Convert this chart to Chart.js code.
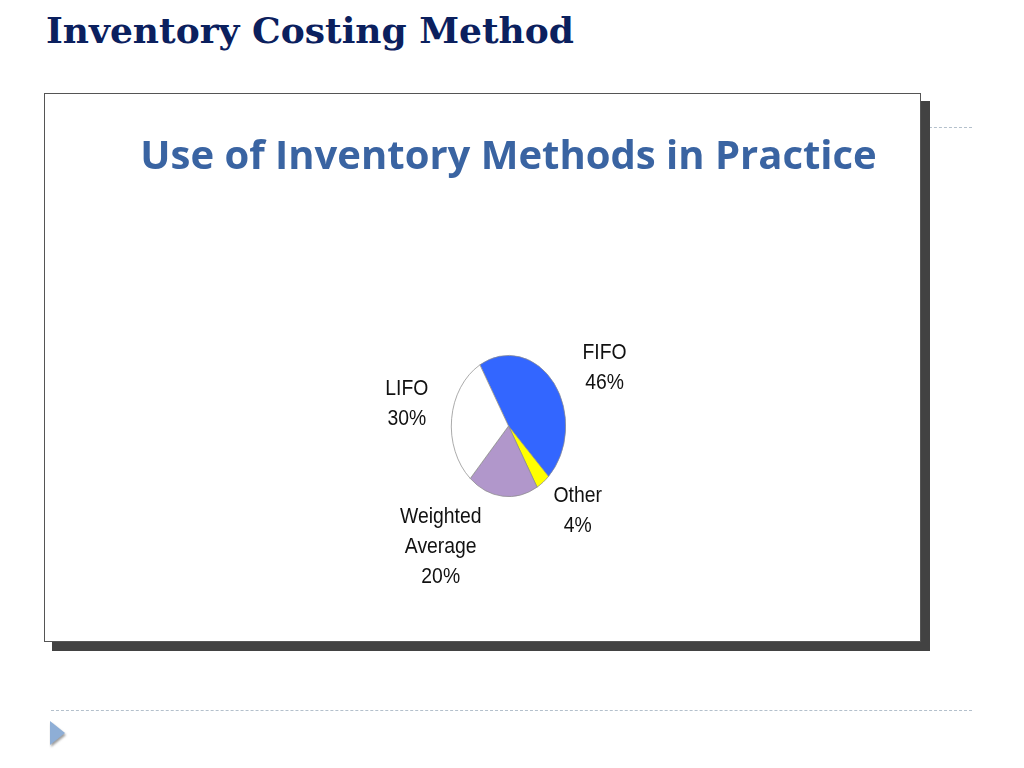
<!DOCTYPE html>
<html>
<head>
<meta charset="utf-8">
<script src="https://cdn.jsdelivr.net/npm/chart.js@4.4.1/dist/chart.umd.min.js"></script>
<style>
  html, body { margin: 0; padding: 0; background: #fff; }
  body { width: 1024px; height: 768px; position: relative; overflow: hidden; }
  #slideTitle {
    position: absolute; left: 46px; top: 9px;
    font-family: "DejaVu Serif", serif; font-weight: bold; font-size: 36px;
    color: #0b205e; white-space: nowrap;
  }
  .dash { position: absolute; height: 0; border-top: 1px dashed #b4c0cc; }
  #shadow { position: absolute; left: 52px; top: 101px; width: 878px; height: 550px; background: #424242; }
  #box { position: absolute; left: 44px; top: 93px; width: 875px; height: 547px; background: #fff; border: 1px solid #555; }
  #chartWrap { position: absolute; left: 0; top: 0; width: 875px; height: 547px; }
  #arrow {
    position: absolute; left: 50px; top: 721px; width: 0; height: 0;
    border-top: 12px solid transparent; border-bottom: 12px solid transparent;
    border-left: 15px solid #8eaed6;
    filter: drop-shadow(1px 2px 1px rgba(60,60,60,0.5));
  }
</style>
</head>
<body>
<div id="slideTitle">Inventory Costing Method</div>
<div class="dash" style="left:52px; top:127px; width:920px;"></div>
<div class="dash" style="left:51px; top:710px; width:921px;"></div>
<div id="shadow"></div>
<div id="box">
  <div id="chartWrap"><canvas id="pieChart" width="875" height="547"></canvas></div>
</div>
<div id="arrow"></div>

<script>
// data
const methods = ["FIFO", "Other", "Weighted Average", "LIFO"];
const shares = [46, 4, 20, 30];
const sliceColors = ["#3366ff", "#ffff00", "#b197cb", "#ffffff"];

// where each label sits, in pie radii from the centre
const labelSpots = [[1.36, -0.82], [0.98, 1.20], [-0.96, 1.72], [-1.44, -0.31]];
const squash = 0.81; // the pie on the slide is drawn as an upright ellipse

const ellipsePie = {
    id: "ellipsePie",
    beforeDatasetsDraw(chart) {
        const arc = chart.getDatasetMeta(0).data[0];
        const c = chart.ctx;
        c.save();
        c.translate(arc.x, arc.y);
        c.scale(squash, 1);
        c.translate(-arc.x, -arc.y);
    },
    afterDatasetsDraw(chart) {
        chart.ctx.restore();
    }
};

// labels use a narrow face, so squeeze the text a little
const sliceLabels = {
    id: "sliceLabels",
    afterDraw(chart) {
        const c = chart.ctx;
        const total = shares.reduce((a, b) => a + b, 0);
        chart.getDatasetMeta(0).data.forEach((arc, i) => {
            const r = arc.outerRadius;
            const cx = arc.x + labelSpots[i][0] * r;
            const cy = arc.y + labelSpots[i][1] * r;
            const lines = methods[i].split(" ");
            lines.push(Math.round(shares[i] / total * 100) + "%");
            const top = cy - (lines.length - 1) * 15;
            c.save();
            c.translate(cx, 0);
            c.scale(0.88, 1);
            c.font = '22px "Liberation Sans Narrow", "Liberation Sans", sans-serif';
            c.fillStyle = "#111";
            c.textAlign = "center";
            c.textBaseline = "middle";
            lines.forEach((t, k) => c.fillText(t, 0, top + k * 30));
            c.restore();
        });
    }
};

new Chart(document.getElementById("pieChart"), {
    type: "pie",
    data: {
        labels: methods,
        datasets: [{
            data: shares,
            backgroundColor: sliceColors,
            borderColor: "#8a8a8a",
            borderWidth: 0.8,
            hoverOffset: 0
        }]
    },
    options: {
        responsive: false,
        animation: false,
        events: [],
        rotation: -30,
        layout: { padding: { left: 52, right: 0, top: 20, bottom: 144 } },
        plugins: {
            legend: { display: false },
            tooltip: { enabled: false },
            title: {
                display: true,
                text: "Use of Inventory Methods in Practice",
                color: "#3a64a2",
                font: { family: '"Open Sans", "Noto Sans", sans-serif', size: 40, weight: "bold", lineHeight: 1.2 },
                padding: { top: 20, bottom: 173 }
            }
        }
    },
    plugins: [ellipsePie, sliceLabels]
});
</script>
</body>
</html>
